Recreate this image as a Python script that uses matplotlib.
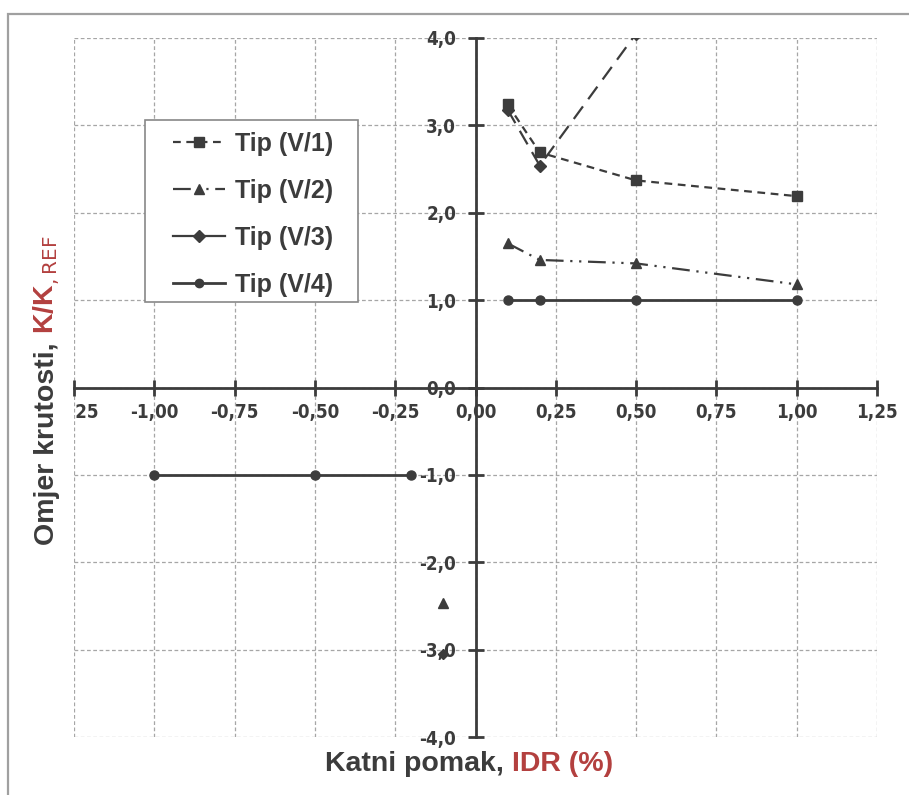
import numpy as np
import matplotlib
matplotlib.use('Agg')
import matplotlib.pyplot as plt
from matplotlib.lines import Line2D
from matplotlib.patches import Rectangle
from matplotlib.transforms import Bbox

# podaci ocitani sa slike
idr_v1 = [0.1, 0.2, 0.5, 1.0]
k_v1 = [3.24, 2.69, 2.37, 2.19]

idr_v2 = [0.1, 0.2, 0.5, 1.0]
k_v2 = [1.65, 1.46, 1.42, 1.18]
idr_v2_neg = [-0.1]
k_v2_neg = [-2.47]

idr_v3 = [0.1, 0.2, 0.5]
k_v3 = [3.18, 2.54, 4.05]
idr_v3_neg = [-0.1]
k_v3_neg = [-3.05]

idr_v4 = [0.1, 0.2, 0.5, 1.0]
k_v4 = [1.0, 1.0, 1.0, 1.0]
idr_v4_neg = [-1.0, -0.5, -0.2]
k_v4_neg = [-1.0, -1.0, -1.0]

xticks = [-1.25, -1.0, -0.75, -0.5, -0.25, 0.0, 0.25, 0.5, 0.75, 1.0, 1.25]
yticks = [-4, -3, -2, -1, 0, 1, 2, 3, 4]
labels = ['Tip (V/1)', 'Tip (V/2)', 'Tip (V/3)', 'Tip (V/4)']

dark = '#3c3c3c'
red = '#b3403f'
grey = '#a6a6a6'
W, H = 909, 795

fig = plt.figure(figsize=(W/100, H/100), dpi=100)
ax = fig.add_axes([74/W, 1-737/H, (877-74)/W, (737-38)/H])

fig.patches.append(Rectangle((8/W, -0.05), 1.1, 1-14/H+0.05, transform=fig.transFigure,
                             fill=False, ec='#a0a0a0', lw=1.6, zorder=1))

ax.set_xlim(-1.25, 1.25)
ax.set_ylim(-4, 4)

# mreza
for xv in xticks:
    ax.axvline(xv, color=grey, lw=0.9, ls=(0, (3, 2)), zorder=0)
for yv in yticks:
    ax.axhline(yv, color=grey, lw=0.9, ls=(0, (3, 2)), zorder=0)

lw = 1.6
ls1 = (0, (3.5, 2.5))
ls2 = (0, (8, 3, 1, 3, 1, 3))
ls3 = (0, (7, 4))
ax.plot(idr_v1, k_v1, color=dark, lw=lw, ls=ls1, marker='s', ms=7)
ax.plot(idr_v2, k_v2, color=dark, lw=lw, ls=ls2, marker='^', ms=7)
ax.plot(idr_v2_neg, k_v2_neg, color=dark, ls='none', marker='^', ms=7)
ax.plot(idr_v3, k_v3, color=dark, lw=lw, ls=ls3, marker='D', ms=6)
ax.plot(idr_v3_neg, k_v3_neg, color=dark, ls='none', marker='D', ms=5)
ax.plot(idr_v4, k_v4, color=dark, lw=2, ls='-', marker='o', ms=6.5)
ax.plot(idr_v4_neg, k_v4_neg, color=dark, lw=2, ls='-', marker='o', ms=6.5)

# osi kroz ishodiste
for s in ['top', 'right']:
    ax.spines[s].set_visible(False)
ax.spines['left'].set_position(('data', 0))
ax.spines['bottom'].set_position(('data', 0))
for s in ['left', 'bottom']:
    ax.spines[s].set_color(dark)
    ax.spines[s].set_linewidth(2)
    ax.spines[s].set_zorder(1)

ax.set_xticks(xticks)
ax.set_yticks(yticks)
ax.set_xticklabels([('%.2f' % v).replace('.', ',') for v in xticks])
ax.set_yticklabels([('%.1f' % v).replace('.', ',') for v in yticks])
ax.tick_params(axis='both', direction='inout', length=12, width=2, color=dark,
               labelcolor=dark)
ax.tick_params(axis='x', pad=5)
ax.tick_params(axis='y', pad=8)
for lbl in ax.get_xticklabels() + ax.get_yticklabels():
    lbl.set_family('DejaVu Sans')
    lbl.set_fontstretch('condensed')
    lbl.set_fontweight('bold')
    lbl.set_fontsize(13.5)
    lbl.set_zorder(5)
# lijevi natpis je odrezan rubom
clip = Bbox([[76, 0], [W, H]])
for lbl in ax.get_xticklabels():
    lbl.set_clip_on(True)
    lbl.set_clip_box(clip)

# legenda
handles = [
    Line2D([], [], color=dark, lw=lw, ls=ls1, marker='s', ms=6.5),
    Line2D([], [], color=dark, lw=lw, ls=ls2, marker='^', ms=6.5),
    Line2D([], [], color=dark, lw=lw, ls='-', marker='D', ms=6),
    Line2D([], [], color=dark, lw=2, ls='-', marker='o', ms=6),
]
fig.patches.append(Rectangle((145/W, 1-302/H), 213/W, 182/H, transform=fig.transFigure,
                             fc='white', ec='#888888', lw=1.2, zorder=2))
leg = fig.legend(handles, labels, loc='upper left', bbox_to_anchor=(173/W, 1-132/H),
                 frameon=False, handlelength=2.08, handletextpad=0.4,
                 labelspacing=0.92, borderpad=0, borderaxespad=0,
                 prop={'family': 'Liberation Sans', 'weight': 'bold', 'size': 18})
leg.set_zorder(5)
for t in leg.get_texts():
    t.set_color(dark)

# naslovi osi, dvije boje
fig.canvas.draw()
r = fig.canvas.get_renderer()
lab_font = dict(family='Liberation Sans', weight='bold', size=20.5)

t1 = fig.text(325/W, 1-764/H, 'Katni pomak, ', color=dark, ha='left', va='center', **lab_font)
bb = t1.get_window_extent(r)
fig.text(bb.x1/W, 1-764/H, 'IDR (%)', color=red, ha='left', va='center', **lab_font)

t2 = fig.text(47/W, 1-545/H, 'Omjer krutosti, ', color=dark, rotation=90,
              rotation_mode='anchor', ha='left', va='center', **lab_font)
bb = t2.get_window_extent(r)
fig.text(47/W, bb.y1/H, 'K/K$_{,\\mathrm{REF}}$', color=red, rotation=90,
         rotation_mode='anchor', ha='left', va='center', **lab_font)

fig.savefig('out.png', dpi=100)
